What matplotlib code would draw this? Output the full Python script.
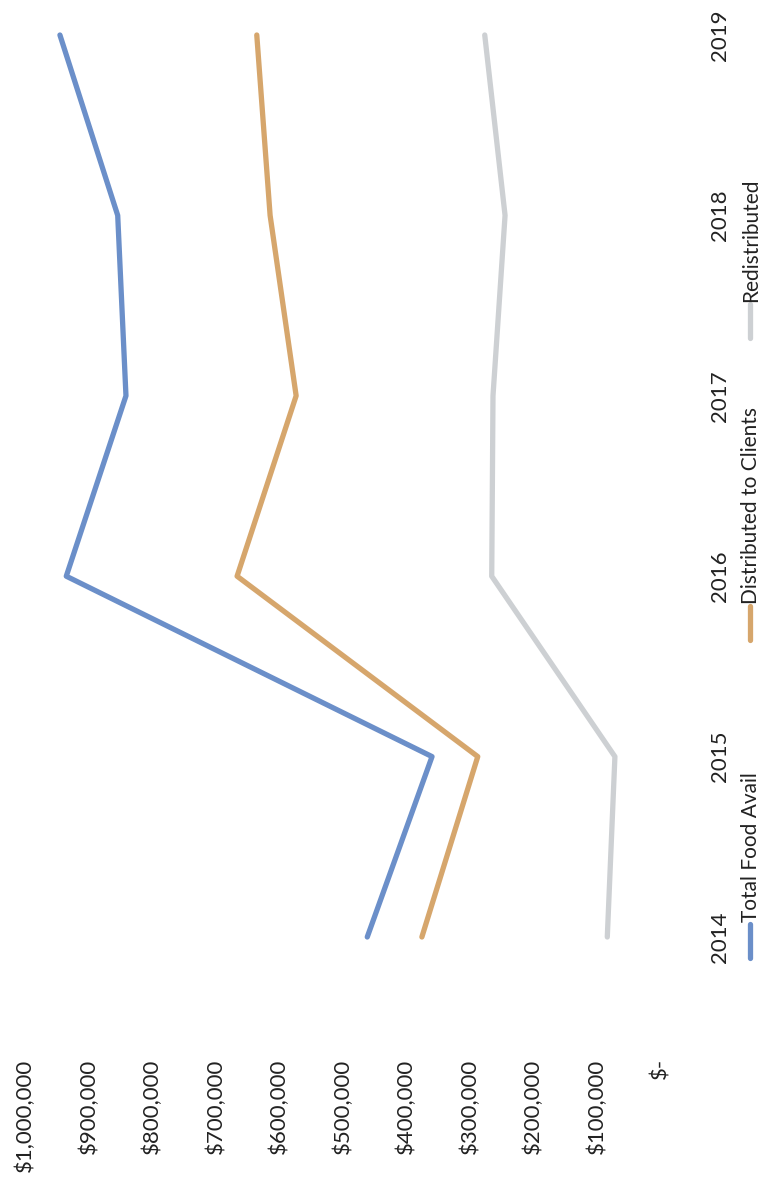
import matplotlib
matplotlib.use("Agg")
import matplotlib.pyplot as plt
from matplotlib.lines import Line2D
from matplotlib.ticker import FuncFormatter

# Annual food values (USD)
years = [2014, 2015, 2016, 2017, 2018, 2019]
total_food_avail = [461000, 359000, 935000, 841000, 854000, 945000]
distributed_to_clients = [375000, 287000, 666000, 573000, 614000, 635000]
redistributed = [83000, 71000, 265000, 263000, 244000, 276000]

series_names = ["Total Food Avail", "Distributed to Clients", "Redistributed"]
series_colors = ["#6b8fc9", "#d6a66c", "#cdd0d3"]
value_ticks = [0, 100000, 200000, 300000, 400000, 500000,
               600000, 700000, 800000, 900000, 1000000]

W, H, DPI = 767, 1182, 100
plt.rcParams["font.family"] = ["Lato", "DejaVu Sans"]
fig = plt.figure(figsize=(W / DPI, H / DPI), dpi=DPI)
fig.patch.set_facecolor("white")

# Page is turned a quarter: values run right-to-left, years bottom-to-top.
ax_left, ax_right = 25, 660          # pixel x of $1,000,000 and $0
ax_top, ax_bottom = 0, 1050          # pixel y extent of the axes
y_first, y_last = 937, 35            # pixel y of 2014 and 2019
ppy = (y_first - y_last) / (years[-1] - years[0])
ax = fig.add_axes([ax_left / W, 1 - ax_bottom / H,
                   (ax_right - ax_left) / W, (ax_bottom - ax_top) / H])
ax.set_xlim(value_ticks[-1], value_ticks[0])
ax.set_ylim(years[0] - (ax_bottom - y_first) / ppy,
            years[-1] + (y_last - ax_top) / ppy)

for vals, col in zip([total_food_avail, distributed_to_clients, redistributed],
                     series_colors):
    ax.plot(vals, years, color=col, lw=3.8, solid_capstyle="round",
            solid_joinstyle="round")

for s in ax.spines.values():
    s.set_visible(False)

def money(v, pos=None):
    return "$-" if v == 0 else "${:,.0f}".format(v)

ax.set_xticks(value_ticks)
ax.xaxis.set_major_formatter(FuncFormatter(money))
ax.tick_params(axis="x", length=0, pad=6, labelsize=16, colors="#222222")
for lbl in ax.get_xticklabels():
    lbl.set_rotation(90)
    lbl.set_va("top")
    lbl.set_ha("center")

ax.yaxis.tick_right()
ax.set_yticks(years)
ax.set_yticklabels([str(y) for y in years])
ax.tick_params(axis="y", length=0, pad=36, labelsize=16, colors="#222222")
for lbl in ax.get_yticklabels():
    lbl.set_rotation(90)
    lbl.set_va("center")
    lbl.set_ha("left")

# Legend, turned with the page
leg_x = 750 / W
leg_starts = [958, 640, 338]
seg = 34
for name, col, y0 in zip(series_names, series_colors, leg_starts):
    fig.add_artist(Line2D([leg_x, leg_x], [1 - y0 / H, 1 - (y0 - seg) / H],
                          color=col, lw=3.8, solid_capstyle="round",
                          transform=fig.transFigure))
    fig.text(leg_x + 1 / W, 1 - (y0 - seg - 2) / H, name, rotation=90,
             ha="center", va="bottom", fontsize=15, color="#222222")

fig.savefig("out.png", dpi=DPI, facecolor="white")
